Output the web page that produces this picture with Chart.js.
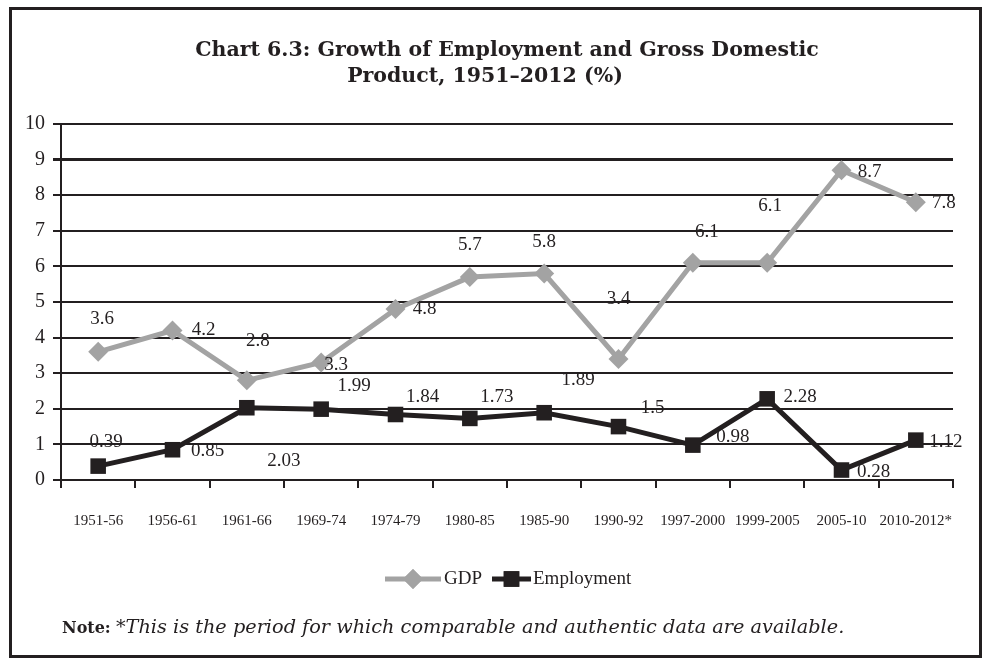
<!DOCTYPE html>
<html><head><meta charset="utf-8">
<script src="https://cdn.jsdelivr.net/npm/chart.js@4"></script>
<style>
html,body{margin:0;padding:0;background:#fff;}
#wrap{position:relative;width:992px;height:666px;overflow:hidden;background:#fff;}
#frame{position:absolute;left:9px;top:7px;width:967px;height:645px;border:3px solid #231f20;}
canvas{position:absolute;left:0;top:0;}
.t{position:absolute;font-family:"DejaVu Serif",serif;font-weight:bold;font-size:20.5px;line-height:26px;color:#231f20;white-space:nowrap;transform:translateX(-50%);}
#note{position:absolute;left:62px;top:615px;font-family:"DejaVu Serif",serif;line-height:24px;color:#231f20;white-space:nowrap;}
#note b{font-weight:bold;font-size:16px;}
#note i{font-style:italic;font-size:19.3px;}
</style></head>
<body>
<div id="wrap">
  <canvas id="c" width="992" height="666"></canvas>
  <div id="frame"></div>
  <div class="t" style="left:507px;top:36px;">Chart 6.3: Growth of Employment and Gross Domestic</div>
  <div class="t" style="left:485px;top:62px;">Product, 1951–2012 (%)</div>
  <div id="note"><b>Note:</b> <i>*This is the period for which comparable and authentic data are available.</i></div>
</div>
<script>
const categories = ["1951-56","1956-61","1961-66","1969-74","1974-79","1980-85","1985-90","1990-92","1997-2000","1999-2005","2005-10","2010-2012*"];
const gdp = [3.6, 4.2, 2.8, 3.3, 4.8, 5.7, 5.8, 3.4, 6.1, 6.1, 8.7, 7.8];
const employment = [0.39, 0.85, 2.03, 1.99, 1.84, 1.73, 1.89, 1.5, 0.98, 2.28, 0.28, 1.12];
const seriesNames = ["GDP", "Employment"];
const yMin = 0, yMax = 10, yStep = 1;

// label placement (style): [dx, dy] from the point centre
const gdpLabelOffsets = [[4,-33],[31,0],[11,-39],[15,2],[29,0],[0,-32],[0,-32],[0,-60],[14,-31],[3,-57],[28,2],[28,1]];
const empLabelOffsets = [[8,-24],[35,1],[37,53],[33,-23],[27,-17],[27,-21],[34,-33],[34,-19],[40,-8],[33,-2],[32,2],[30,2]];

const INK = '#231f20';
const GREY = '#a3a3a3';

const labelPlugin = {
  id: 'pointLabels',
  afterDatasetsDraw(chart) {
    const ctx = chart.ctx;
    ctx.save();
    ctx.font = '19px "Liberation Serif", serif';
    ctx.fillStyle = INK;
    ctx.textAlign = 'center';
    ctx.textBaseline = 'middle';
    chart.data.datasets.forEach((ds, di) => {
      const meta = chart.getDatasetMeta(di);
      const offs = ds.labelOffsets;
      meta.data.forEach((pt, i) => {
        const o = offs[i];
        ctx.fillText(String(ds.data[i]), pt.x + o[0], pt.y + o[1]);
      });
    });
    ctx.restore();
  }
};

const legendPlugin = {
  id: 'customLegend',
  afterDraw(chart) {
    const ctx = chart.ctx;
    const y = 579;
    const items = [
      {x1: 385, x2: 441, color: GREY, style: 'rectRot', r: 10, text: seriesNames[0], tx: 444},
      {x1: 492, x2: 531, color: INK, style: 'rect', r: 11, text: seriesNames[1], tx: 533}
    ];
    ctx.save();
    items.forEach(it => {
      ctx.strokeStyle = it.color;
      ctx.lineWidth = 5;
      ctx.beginPath();
      ctx.moveTo(it.x1, y); ctx.lineTo(it.x2, y); ctx.stroke();
      ctx.fillStyle = it.color;
      Chart.helpers.drawPoint(ctx, {pointStyle: it.style, radius: it.r, borderWidth: 0, rotation: 0}, (it.x1 + it.x2) / 2, y);
      ctx.fill();
      ctx.fillStyle = INK;
      ctx.font = '19px "Liberation Serif", serif';
      ctx.textAlign = 'left';
      ctx.textBaseline = 'middle';
      ctx.fillText(it.text, it.tx, y);
    });
    ctx.restore();
  }
};

new Chart(document.getElementById('c'), {
  type: 'line',
  data: {
    labels: categories,
    datasets: [
      {label: seriesNames[0], data: gdp, labelOffsets: gdpLabelOffsets, borderColor: GREY, backgroundColor: GREY,
       borderWidth: 5, pointStyle: 'rectRot', pointRadius: 10, pointBorderWidth: 0, pointBackgroundColor: GREY, tension: 0, clip: false},
      {label: seriesNames[1], data: employment, labelOffsets: empLabelOffsets, borderColor: INK, backgroundColor: INK,
       borderWidth: 5, pointStyle: 'rect', pointRadius: 11, pointBorderWidth: 0, pointBackgroundColor: INK, tension: 0, clip: false}
    ]
  },
  options: {
    responsive: false,
    animation: false,
    devicePixelRatio: 1,
    layout: {padding: {left: 0, right: 39, top: 124, bottom: 126}},
    plugins: {legend: {display: false}, title: {display: false}, tooltip: {enabled: false}},
    scales: {
      x: {
        offset: true,
        grid: {display: true, drawOnChartArea: false, drawTicks: true, tickLength: 8, offset: true, color: INK, lineWidth: 2},
        border: {display: true, color: INK, width: 2},
        ticks: {color: INK, font: {family: '"Liberation Serif", serif', size: 15}, padding: 24, maxRotation: 0, autoSkip: false},
        afterFit(s) { s.height = 60; }
      },
      y: {
        min: yMin, max: yMax,
        grid: {color: INK, lineWidth: c => (c.tick && c.tick.value === 9 ? 3 : 2), tickLength: 8, drawTicks: true},
        border: {display: true, color: INK, width: 2},
        ticks: {stepSize: yStep, color: INK, font: {family: '"Liberation Serif", serif', size: 20}, padding: 8},
        afterFit(s) { s.width = 61; }
      }
    }
  },
  plugins: [labelPlugin, legendPlugin]
});
</script>
</body></html>
